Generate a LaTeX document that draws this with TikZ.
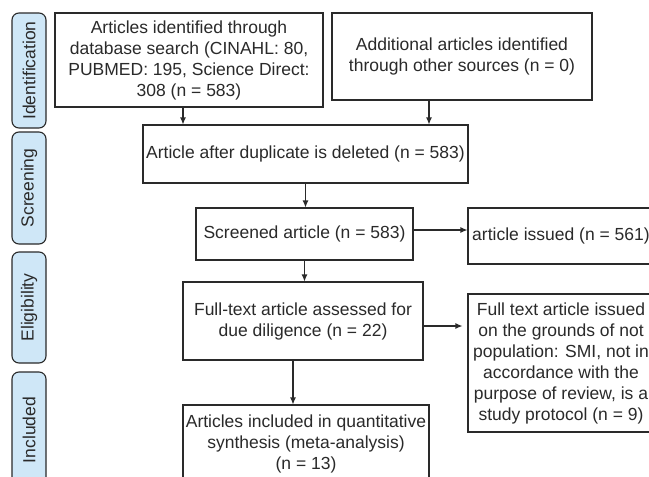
\documentclass[tikz,border=0pt]{standalone}
\usepackage{fontspec}
\setmainfont{Liberation Sans}
\usetikzlibrary{arrows.meta}
\definecolor{pillfill}{HTML}{CFE7F7}
\definecolor{ink}{HTML}{2A2A2A}
\begin{document}
\begin{tikzpicture}[x=1pt,y=-1pt,
  box/.style={draw=ink, line width=1.1pt, fill=white, align=center,
    font=\fontsize{17.5}{21}\selectfont, text=ink, inner sep=0pt, anchor=center},
  phase/.style={draw=ink, fill=pillfill, line width=1.1pt, rounded corners=7pt,
    rotate=90, minimum height=34pt, inner sep=0pt, anchor=center,
    font=\fontsize{17.5}{21}\selectfont, text=ink},
  arr/.style={draw=ink, line width=1.1pt, -{Latex[length=7pt,width=6pt]}}]
\useasboundingbox (0,0) rectangle (649,477);
\clip (0,0) rectangle (649,477);
\fill[white] (0,0) rectangle (649,477);
% phases
\node[phase, minimum width=115pt] (pid) at (29,70.5) {Identification};
\node[phase, minimum width=112pt] (psc) at (29,188) {Screening};
\node[phase, minimum width=111pt] (pel) at (29,307.5) {Eligibility};
\node[phase, minimum width=116pt] (pin) at (29,430) {Included};
% boxes
\node[box, minimum width=268pt, minimum height=94pt] (b1) at (189,60)
  {Articles identified through\\database search (CINAHL: 80,\\PUBMED: 195, Science Direct:\\308 (n = 583)};
\node[box, minimum width=260pt, minimum height=87pt] (b2) at (462,56.5)
  {Additional articles identified\\through other sources (n = 0)};
\node[box, minimum width=325pt, minimum height=58pt] (b3) at (305.5,154)
  {Article after duplicate is deleted (n = 583)};
\node[box, minimum width=217pt, minimum height=52pt] (b4) at (304.5,234)
  {Screened article (n = 583)};
\node[box, minimum width=186pt, minimum height=56pt] (b5) at (561,236)
  {article issued (n = 561)};
\node[box, minimum width=240pt, minimum height=78pt] (b6) at (303,321)
  {Full-text article assessed for\\due diligence (n = 22)};
\node[box, minimum width=186pt, minimum height=138pt] (b7) at (561,363)
  {Full text article issued\\on the grounds of not\\population: SMI, not in\\accordance with the\\purpose of review, is a\\study protocol (n = 9)};
\node[box, minimum width=246pt, minimum height=77pt] (b8) at (306,443.5)
  {Articles included in quantitative\\synthesis (meta-analysis)\\(n = 13)};
% connectors
\draw[arr] ([xshift=-6pt]b1.south) -- ([xshift=-6pt]b1.south |- b3.north);
\draw[arr] ([xshift=-33pt]b2.south) -- ([xshift=-33pt]b2.south |- b3.north);
\draw[arr] (b3.south) -- (b3.south |- b4.north);
\draw[arr] ([yshift=4pt]b4.east) -- ([yshift=4pt]b4.east -| b5.west);
\draw[arr] (b4.south) -- (b4.south |- b6.north);
\draw[arr, shorten >=5pt] ([yshift=-5pt]b6.east) -- ([yshift=-5pt]b6.east -| b7.west);
\draw[arr] ([xshift=-10pt]b6.south) -- ([xshift=-10pt]b6.south |- b8.north);
\end{tikzpicture}
\end{document}
